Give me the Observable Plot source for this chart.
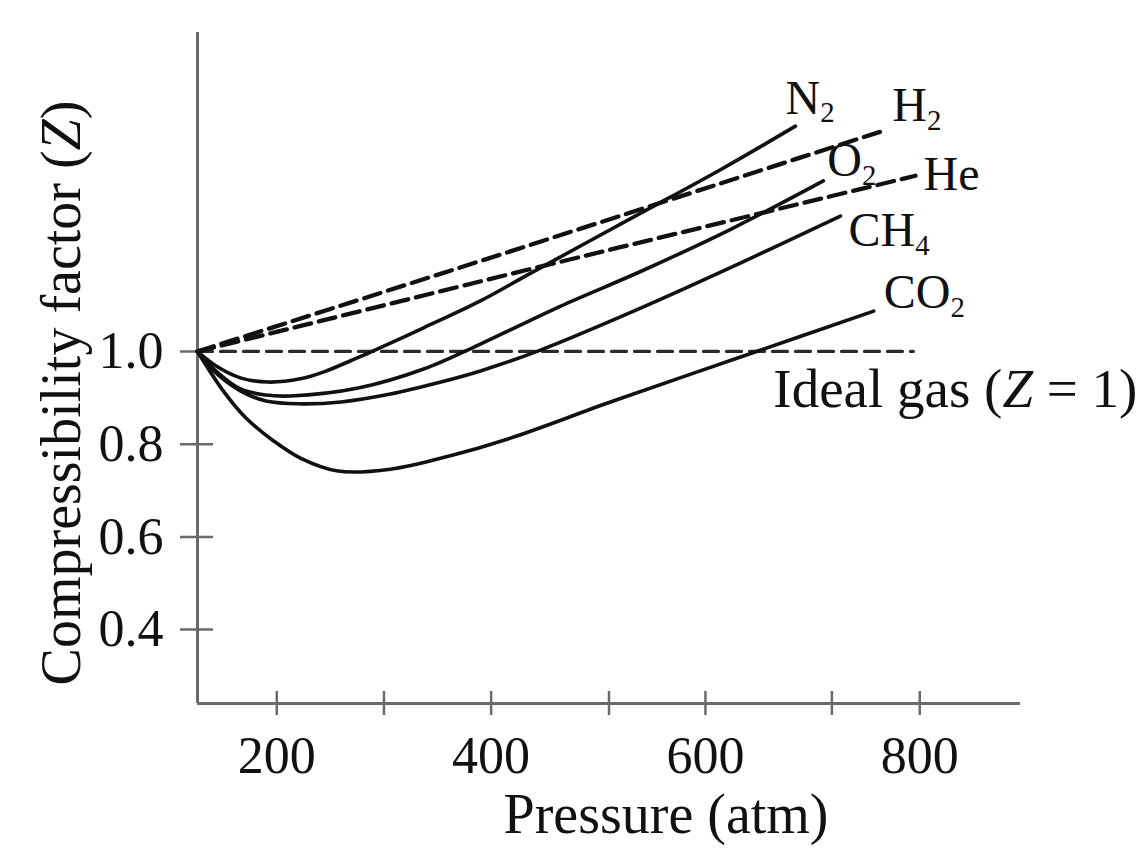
<!DOCTYPE html>
<html>
<head>
<meta charset="utf-8">
<script src="https://cdn.jsdelivr.net/npm/d3@7"></script>
<script src="https://cdn.jsdelivr.net/npm/@observablehq/plot@0.6"></script>
<style>
  html, body { margin: 0; padding: 0; background: #fff; }
  #chart svg { display: block; }
</style>
</head>
<body>
<div id="chart"></div>
<script>
// ---------- data ----------
const pN2  = [126, 143, 166, 192, 222, 244, 269, 288, 337, 390, 437, 537, 614, 684];
const zN2  = [1.000, 0.969, 0.943, 0.934, 0.941, 0.956, 0.980, 0.999, 1.051, 1.109, 1.169, 1.295, 1.392, 1.486];

const pO2  = [126, 143, 166, 190, 213, 276, 337, 390, 465, 540, 624, 710];
const zO2  = [1.000, 0.958, 0.919, 0.906, 0.904, 0.921, 0.962, 1.016, 1.098, 1.173, 1.264, 1.368];

const pCH4 = [126, 143, 166, 190, 222, 260, 306, 353, 390, 446, 540, 633, 726];
const zCH4 = [1.000, 0.954, 0.915, 0.893, 0.887, 0.891, 0.908, 0.934, 0.958, 1.003, 1.094, 1.191, 1.292];

const pCO2 = [126, 150, 171, 197, 222, 257, 306, 362, 418, 514, 649, 757];
const zCO2 = [1.000, 0.915, 0.857, 0.807, 0.770, 0.742, 0.746, 0.775, 0.813, 0.893, 1.001, 1.087];

const pH2  = [126, 390, 766];
const zH2  = [1.000, 1.195, 1.476];

const pHe  = [126, 437, 796];
const zHe  = [1.000, 1.178, 1.379];

const pIdeal = [126, 794];
const zIdeal = [1, 1];

const xDomain = [126, 894];
const yDomain = [0.2406, 1.688];
const xTickMarks  = [200, 300, 400, 510, 600, 718, 800];
const xTickLabels = [200, 400, 600, 800];
const yTicks = [0.4, 0.6, 0.8, 1.0];

const xTitle = "Pressure (atm)";
const yTitle = "Compressibility factor (Z)";
const idealTitle = "Ideal gas (Z = 1)";

const solidGases  = ["N2", "O2", "CH4", "CO2"];
const dashedGases = ["H2", "He"];

// ---------- tables built from the arrays ----------
const seriesList = [
  {gas: "N2",  p: pN2,  z: zN2},
  {gas: "O2",  p: pO2,  z: zO2},
  {gas: "CH4", p: pCH4, z: zCH4},
  {gas: "CO2", p: pCO2, z: zCO2},
  {gas: "H2",  p: pH2,  z: zH2},
  {gas: "He",  p: pHe,  z: zHe}
];
const rows = seriesList.flatMap(s => s.p.map((p, i) => ({gas: s.gas, p, z: s.z[i]})));
const idealRows = pIdeal.map((p, i) => ({p, z: zIdeal[i]}));
const endPoints = seriesList.map(s => ({gas: s.gas, p: s.p[s.p.length - 1], z: s.z[s.z.length - 1]}));

// ---------- styles ----------
const FONT = "'Liberation Serif', 'Times New Roman', serif";
const INK = "#111";
const AXIS = "#6a6a6a";
const labelOffsets = {
  N2:  {dx: -10, dy: -28},
  H2:  {dx: 9,   dy: -25},
  O2:  {dx: 4,   dy: -20},
  He:  {dx: 8,   dy: -1},
  CH4: {dx: 8,   dy: 15},
  CO2: {dx: 10,  dy: -18}
};

const gasLabelMarks = endPoints.map(d => Plot.text([d], {
  x: "p", y: "z", text: "gas",
  textAnchor: "start",
  dx: labelOffsets[d.gas].dx, dy: labelOffsets[d.gas].dy,
  fontSize: 48, fill: INK
}));

const chart = Plot.plot({
  width: 1145,
  height: 848,
  marginLeft: 197,
  marginRight: 125,
  marginTop: 32,
  marginBottom: 145,
  x: {domain: xDomain},
  y: {domain: yDomain},
  style: {fontFamily: FONT, color: INK, background: "#fff"},
  marks: [
    // axis lines
    Plot.ruleX([xDomain[0]], {stroke: AXIS, strokeWidth: 3}),
    Plot.ruleY([yDomain[0]], {stroke: AXIS, strokeWidth: 3}),
    // crossing tick marks
    Plot.axisX({ticks: xTickMarks, tickSize: 24, dy: -12, tickFormat: () => "", stroke: AXIS, strokeWidth: 2.5, label: null}),
    Plot.axisY({ticks: yTicks, tickSize: 33, dx: 16, tickFormat: () => "", stroke: AXIS, strokeWidth: 2.5, label: null}),
    // tick labels
    Plot.axisX({ticks: xTickLabels, tickSize: 0, tickPadding: 33, fontSize: 52, fill: INK, label: null, tickFormat: d => String(d)}),
    Plot.axisY({ticks: yTicks, tickSize: 0, tickPadding: 34, fontSize: 52, fill: INK, label: null, tickFormat: d3.format(".1f")}),
    // ideal gas line
    Plot.line(idealRows, {x: "p", y: "z", stroke: "#2a2a2a", strokeWidth: 3.2, strokeDasharray: "15,8"}),
    // real gases
    Plot.line(rows.filter(d => solidGases.includes(d.gas)), {x: "p", y: "z", z: "gas", curve: "catmull-rom", stroke: INK, strokeWidth: 3.6}),
    Plot.line(rows.filter(d => dashedGases.includes(d.gas)), {x: "p", y: "z", z: "gas", stroke: INK, strokeWidth: 4.3, strokeDasharray: "17,8"}),
    // labels
    ...gasLabelMarks,
    Plot.text([{p: pIdeal[1], z: zIdeal[1], label: idealTitle}], {
      x: "p", y: "z", text: "label", textAnchor: "start", dx: -140, dy: 38,
      fontSize: 55, fill: INK
    }),
    // axis titles
    Plot.text([xTitle], {text: d => d, frameAnchor: "bottom", textAnchor: "middle", lineAnchor: "middle", dx: 57, dy: 112, fontSize: 56, fill: INK}),
    Plot.text([yTitle], {text: d => d, frameAnchor: "left", textAnchor: "middle", lineAnchor: "middle", rotate: -90, dx: -135, dy: 25, fontSize: 56, fill: INK})
  ]
});

const gasNames = new Set(seriesList.map(s => s.gas));
d3.select(chart).selectAll("text").each(function () {
  const el = d3.select(this);
  const t = el.text();
  if (gasNames.has(t)) {
    // subscripts for chemical formulas
    const m = t.match(/^([A-Za-z]+)(\d+)$/);
    if (m) {
      el.text(null);
      el.append("tspan").text(m[1]);
      el.append("tspan").attr("dy", "0.3em").attr("font-size", "0.6em").text(m[2]);
    }
  } else if (t === yTitle || t === idealTitle) {
    // italic Z
    const i = t.indexOf("Z");
    el.text(null);
    el.append("tspan").text(t.slice(0, i));
    el.append("tspan").attr("font-style", "italic").text("Z");
    el.append("tspan").text(t.slice(i + 1));
  }
});

document.getElementById("chart").append(chart);
</script>
</body>
</html>
